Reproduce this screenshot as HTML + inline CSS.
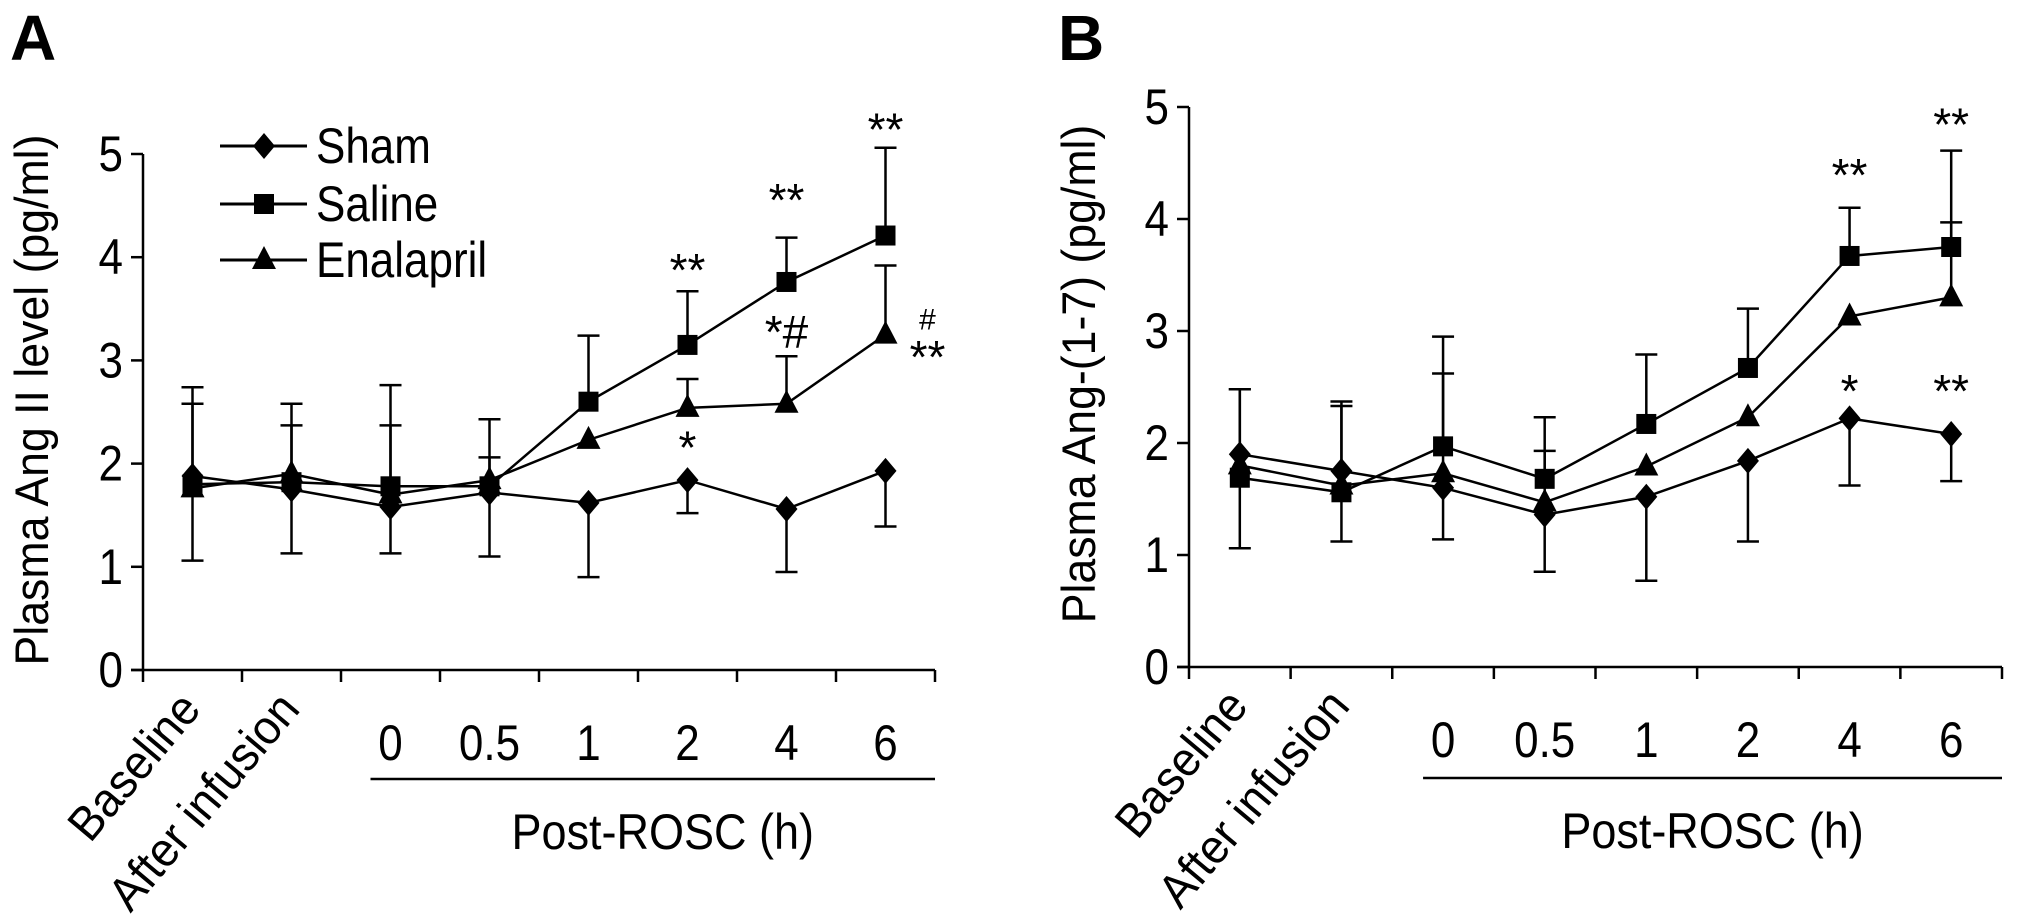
<!DOCTYPE html>
<html><head><meta charset="utf-8">
<style>
html,body{margin:0;padding:0;background:#fff;}
svg{display:block;}
text{font-family:"Liberation Sans Narrow","Liberation Sans",sans-serif;fill:#000;}
</style></head>
<body>
<svg id="fig" width="2031" height="919" viewBox="0 0 2031 919" xmlns="http://www.w3.org/2000/svg"></svg>
<script>
const categories = ["Baseline","After infusion","0","0.5","1","2","4","6"];
const yTicks = [0,1,2,3,4,5];
// Panel A
const aSham = [1.88,1.75,1.58,1.72,1.62,1.84,1.56,1.93];
const aSaline = [1.80,1.82,1.78,1.78,2.60,3.15,3.76,4.21];
const aEnal = [1.76,1.90,1.70,1.84,2.23,2.54,2.58,3.25];
const aShamLow = [1.06,1.13,1.13,1.10,0.90,1.52,0.95,1.39];
const aSalineUp = [2.74,2.58,2.76,2.43,3.24,3.67,4.19,5.06];
const aEnalUp = [2.58,2.37,2.37,2.06,null,2.82,3.04,3.92];
// Panel B
const bSham = [1.90,1.75,1.60,1.36,1.52,1.84,2.22,2.08];
const bSaline = [1.69,1.56,1.97,1.68,2.17,2.67,3.67,3.75];
const bEnal = [1.80,1.62,1.73,1.47,1.79,2.23,3.13,3.30];
const bShamLow = [1.06,1.12,1.14,0.85,0.77,1.12,1.62,1.66];
const bSalineUp = [2.48,2.37,2.95,2.23,2.79,3.20,4.10,4.61];
const bEnalUp = [2.48,2.33,2.62,1.93,null,null,null,3.97];

const NS="http://www.w3.org/2000/svg";
const svg=document.getElementById('fig');
function mk(tag,attrs,parent,txt){const e=document.createElementNS(NS,tag);for(const k in attrs)e.setAttribute(k,attrs[k]);if(txt!==undefined)e.textContent=txt;(parent||svg).appendChild(e);return e;}
function nt(x,y,size,anchor,parent,txt,sx){
  return mk('text',{x:0,y:0,'font-size':size,'text-anchor':anchor,transform:`translate(${x},${y}) scale(${sx||0.88},1)`},parent,txt);
}

function panel(cfg){
  const g=mk('g',{});
  
  
  const x0=cfg.x0,x1=cfg.x1,y0=cfg.y0,y5=cfg.y5;
  const sy=v=>y0+(y5-y0)*v/5;
  const step=(x1-x0)/categories.length;
  const sx=i=>x0+step*(i+0.5);
  const ya=mk('line',{x1:x0,y1:sy(0),x2:x0,y2:sy(5),stroke:'#000','stroke-width':2.5},g);
  
  
  const xa=mk('line',{x1:x0-12,y1:y0,x2:x1,y2:y0,stroke:'#000','stroke-width':2.5},g);
  
  
  yTicks.forEach(t=>{
    mk('line',{x1:x0-12,y1:sy(t),x2:x0,y2:sy(t),stroke:'#000','stroke-width':2.5},g);
    const tl=nt(x0-20,sy(t)+17,50,'end',g,String(t));
    
    
  });
  for(let i=0;i<=categories.length;i++){
    mk('line',{x1:x0+step*i,y1:y0,x2:x0+step*i,y2:y0+12,stroke:'#000','stroke-width':2.5},g);
  }
  categories.forEach((c,i)=>{
    let t;
    if(i<2){
      t=mk('text',{x:0,y:0,'font-size':48,'text-anchor':'end',transform:`translate(${sx(i)+10},${y0+40}) rotate(-50) scale(0.95,1)`},g,c);
    } else {
      t=nt(sx(i),y0+90,50,'middle',g,c);
    }
    
    
  });
  const pl=mk('line',{x1:sx(2)-20,y1:cfg.lineY,x2:x1,y2:cfg.lineY,stroke:'#000','stroke-width':2.5},g);
  
  
  const pt=nt((sx(2)+x1)/2+cfg.labelDx,cfg.lineY+70,50,'middle',g,'Post-ROSC (h)',0.9);
  
  
  const yt=mk('text',{x:0,y:0,'font-size':47,'text-anchor':'middle',transform:`translate(${cfg.titleX},${cfg.titleY}) rotate(-90) scale(0.95,1)`},g,cfg.title);
  
  
  const pL=mk('text',{x:cfg.letterX,y:60,'font-size':64,'font-weight':'bold','font-family':'Liberation Sans, sans-serif'},g,cfg.letter);
  
  

  const series=[
    {n:'sham',v:cfg.sham,e:cfg.shamLow,m:'diamond'},
    {n:'saline',v:cfg.saline,e:cfg.salineUp,m:'square'},
    {n:'enalapril',v:cfg.enal,e:cfg.enalUp,m:'triangle'}];
  series.forEach(s=>{
    s.e.forEach((ev,i)=>{
      if(ev===null)return;
      const eb=mk('path',{d:`M${sx(i)},${sy(s.v[i])}L${sx(i)},${sy(ev)}M${sx(i)-11},${sy(ev)}L${sx(i)+11},${sy(ev)}`,stroke:'#000','stroke-width':2.5,fill:'none'},g);
      
      
    });
  });
  series.forEach(s=>{
    const d=s.v.map((v,i)=>(i?'L':'M')+sx(i)+','+sy(v)).join('');
    const ln=mk('path',{d:d,stroke:'#000','stroke-width':2.5,fill:'none'},g);
    
    
    s.v.forEach((v,i)=>{
      const m=marker(s.m,sx(i),sy(v),g);
      
      
    });
  });
  cfg.ann.forEach(a=>{
    const t=mk('text',{x:sx(a[0])+(a[3]||0),y:sy(a[1]),'font-size':a[4]||46,'text-anchor':'middle','font-family':'Liberation Sans, sans-serif'},g,a[2]);
    
    
  });
}
function marker(type,x,y,g){
  if(type==='square')return mk('rect',{x:x-10,y:y-10,width:20,height:20,fill:'#000'},g);
  if(type==='diamond')return mk('path',{d:`M${x},${y-13}L${x+11},${y}L${x},${y+13}L${x-11},${y}Z`,fill:'#000'},g);
  return mk('path',{d:`M${x},${y-14}L${x+12},${y+9}L${x-12},${y+9}Z`,fill:'#000'},g);
}

panel({name:'panel-a',letter:'A',letterX:10,x0:143,x1:935,y0:670,y5:154,lineY:779,labelDx:0,
  title:'Plasma Ang II level (pg/ml)',titleX:48,titleY:400,
  sham:aSham,saline:aSaline,enal:aEnal,shamLow:aShamLow,salineUp:aSalineUp,enalUp:aEnalUp,
  ann:[[5,3.72,'**'],[6,4.4,'**'],[7,5.08,'**'],[6,3.12,'*#'],[5,2.0,'*'],[7,3.3,'#',42,30],[7,2.88,'**',42]]});
panel({name:'panel-b',letter:'B',letterX:1058,x0:1189,x1:2002,y0:667,y5:107,lineY:778,labelDx:-10,
  title:'Plasma Ang-(1-7)  (pg/ml)',titleX:1095,titleY:374,
  sham:bSham,saline:bSaline,enal:bEnal,shamLow:bShamLow,salineUp:bSalineUp,enalUp:bEnalUp,
  ann:[[6,4.25,'**'],[7,4.7,'**'],[6,2.32,'*'],[7,2.32,'**']]});

const legend=mk('g',{});


[['Sham','diamond',146],['Saline','square',204],['Enalapril','triangle',260]].forEach(r=>{
  const e=mk('g',{},legend);
  
  
  mk('line',{x1:220,y1:r[2],x2:307,y2:r[2],stroke:'#000','stroke-width':3},e);
  marker(r[1],264,r[2],e);
  nt(316,r[2]+17,50,'start',e,r[0]);
});
</script>
</body></html>
